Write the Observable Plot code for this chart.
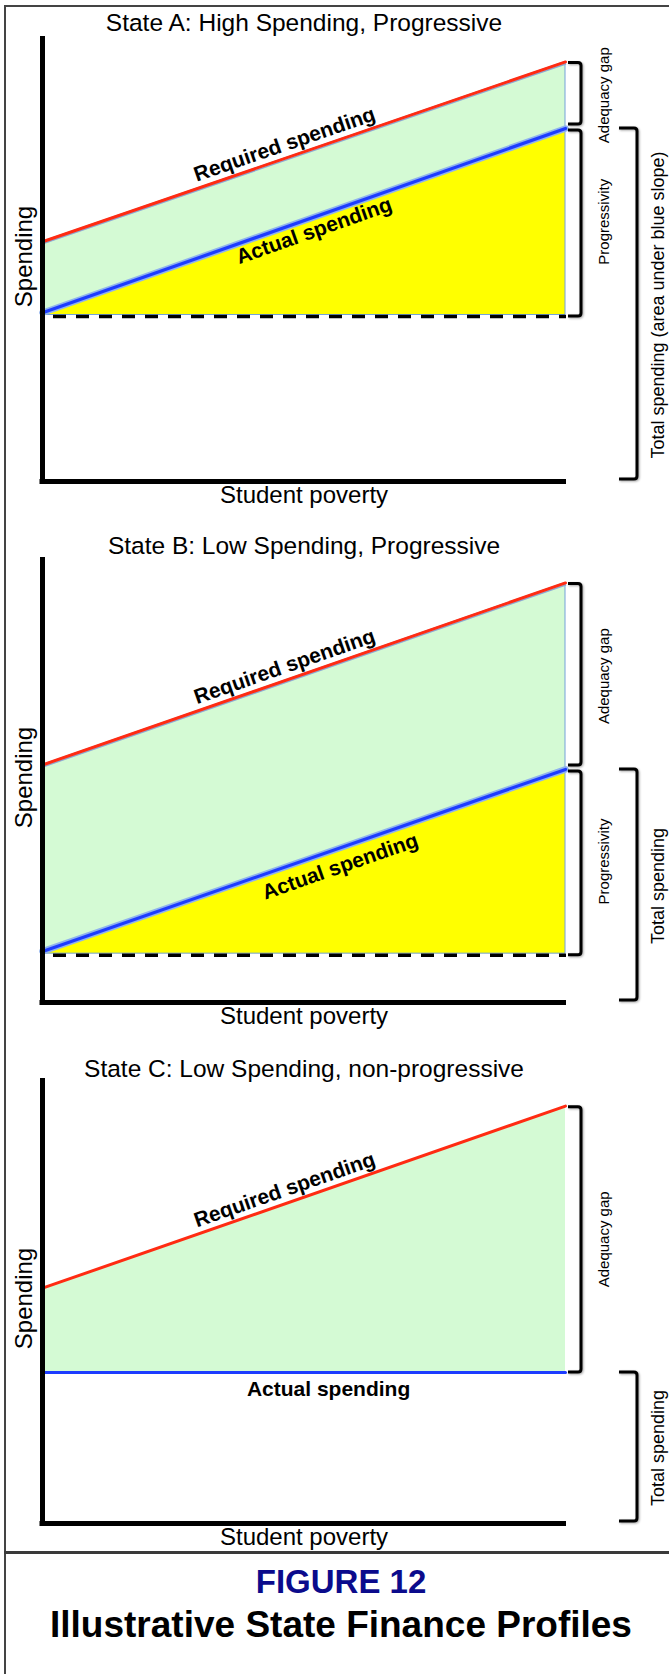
<!DOCTYPE html>
<html>
<head>
<meta charset="utf-8">
<script src="https://cdn.jsdelivr.net/npm/d3@7"></script>
<script src="https://cdn.jsdelivr.net/npm/@observablehq/plot@0.6"></script>
<style>
  html, body { margin: 0; padding: 0; background: #fff; }
  body { width: 669px; height: 1674px; overflow: hidden; position: relative;
         font-family: "Liberation Sans", Arial, Helvetica, sans-serif; }
  #frame { position: absolute; left: 4px; top: 5px; width: 700px; height: 1720px;
           border-left: 2px solid #444; border-top: 2px solid #444; }
  #sep { position: absolute; left: 4px; top: 1551px; width: 700px; height: 0;
         border-top: 3px solid #3a3a3a; }
  .panel { position: absolute; left: 0; }
  .cap { position: absolute; left: 0; width: 682px; text-align: center; line-height: 1;
         font-family: "Liberation Sans", Arial, Helvetica, sans-serif; font-weight: bold; white-space: nowrap; }
</style>
</head>
<body>
<div id="frame"></div>
<div id="panels"></div>
<div id="sep"></div>
<div class="cap" id="fignum" style="top:1565px;font-size:33px;color:#0b0b8c;">FIGURE 12</div>
<div class="cap" id="figtitle" style="top:1606px;font-size:37px;color:#000;">Illustrative State Finance Profiles</div>
<script>
// ---------------- data ----------------
const titles = [
  "State A: High Spending, Progressive",
  "State B: Low Spending, Progressive",
  "State C: Low Spending, non-progressive"
];
const poverty = [0, 1];                 // student poverty (low -> high)
const requiredA = [54, 94.5];           // required spending
const actualA   = [38, 79.5];           // actual spending
const baselineA = 37.5;                 // spending at zero poverty (dashed)
const requiredB = [53.5, 94.5];
const actualB   = [11.5, 52.5];
const baselineB = 11;
const requiredC = [53, 94];
const actualC   = [34, 34];
const xLabel = "Student poverty";
const yLabel = "Spending";
const lineLabels = ["Required spending", "Actual spending"];
const bracketLabels = ["Adequacy gap", "Progressivity", "Total spending (area under blue slope)", "Total spending"];

// ---------------- layout ----------------
const FONT = "'Liberation Sans', Arial, Helvetica, sans-serif";
const W = 669, H = 510, ML = 42, MR = 104, MT = 37, MB = 29;
const C = {
  red: "#ff2b12", blue: "#1d3cff", halo: "#8fb2ee", green: "#d4fad4",
  yellow: "#ffff00", edge: "#74a2d9"
};

const panels = [
  { title: titles[0], required: requiredA, actual: actualA, baseline: baselineA, progressive: true,
    top: 0, titleDy: -14, total: bracketLabels[2], reqT: 0.467, actT: 0.514, actDy: 5 },
  { title: titles[1], required: requiredB, actual: actualB, baseline: baselineB, progressive: true,
    top: 521, titleDy: -12, total: bracketLabels[3], reqT: 0.467, actT: 0.564, actDy: 10 },
  { title: titles[2], required: requiredC, actual: actualC, baseline: null, progressive: false,
    top: 1042, titleDy: -10, total: bracketLabels[3], reqT: 0.467, actT: 0.547, actDy: 9 }
];

const at = (arr, t) => arr[0] + (arr[1] - arr[0]) * t;

function scaleFn(plot, name, domain, range) {
  const s = plot.scale(name);
  if (s && typeof s.apply === "function") return v => s.apply(v);
  return d3.scaleLinear(s ? s.domain : domain, s ? s.range : range);
}

function bracketMark(specs) {
  return (index, scales) => {
    const X = scales.x, Y = scales.y;
    const g = d3.create("svg:g")
      .attr("fill", "none").attr("stroke", "#000").attr("stroke-width", 3)
      .attr("stroke-linejoin", "round").attr("stroke-linecap", "butt")
      .style("filter", "drop-shadow(1px 1.5px 1px rgba(0,0,0,0.35))");
    for (const s of specs) {
      const xv = X(1) + s.offset, t = s.tick, r = 3;
      const a = Y(s.from) + s.padTop, b = Y(s.to) - s.padBottom;
      g.append("path").attr("d",
        `M${xv - t},${a}H${xv - r}Q${xv},${a} ${xv},${a + r}V${b - r}Q${xv},${b} ${xv - r},${b}H${xv - t}`);
    }
    return g.node();
  };
}

function makePanel(p) {
  const rows = poverty.map((x, i) => ({
    poverty: x, required: p.required[i], actual: p.actual[i], baseline: p.baseline
  }));
  const common = {
    width: W, height: H, marginLeft: ML, marginRight: MR, marginTop: MT, marginBottom: MB,
    x: { domain: [0, 1], axis: null },
    y: { domain: [0, 100], axis: null },
    style: { fontFamily: FONT, background: "transparent", overflow: "visible" }
  };
  // probe plot to read the library's scales for label angles
  const probe = Plot.plot({ ...common, marks: [Plot.line(rows, { x: "poverty", y: "required" })] });
  const sx = scaleFn(probe, "x", [0, 1], [ML, W - MR]);
  const sy = scaleFn(probe, "y", [0, 100], [H - MB, MT]);
  const ang = arr => Math.atan2(sy(arr[1]) - sy(arr[0]), sx(1) - sx(0)) * 180 / Math.PI;
  const reqAng = ang(p.required), actAng = ang(p.actual);

  const marks = [];
  // green adequacy-gap area
  marks.push(Plot.areaY(rows, { x: "poverty", y1: "actual", y2: "required", fill: C.green,
    stroke: p.progressive ? C.edge : "none", strokeWidth: 1 }));
  if (p.progressive) {
    marks.push(Plot.areaY(rows, { x: "poverty", y1: "baseline", y2: "actual", fill: C.yellow,
      stroke: C.edge, strokeWidth: 1 }));
    marks.push(Plot.ruleY([p.baseline], { stroke: "#000", strokeWidth: 3.5,
      strokeDasharray: "13,10", strokeDashoffset: 12, dy: 1.5, insetRight: -1 }));
    marks.push(Plot.line(rows, { x: "poverty", y: "actual", stroke: C.halo, strokeWidth: 6.5 }));
    marks.push(Plot.line(rows, { x: "poverty", y: "actual", stroke: C.blue, strokeWidth: 3.2 }));
    marks.push(Plot.line(rows, { x: "poverty", y: "required", stroke: "#8ea8d2", strokeWidth: 1.6, dy: 2 }));
  } else {
    marks.push(Plot.line(rows, { x: "poverty", y: "actual", stroke: C.blue, strokeWidth: 3 }));
  }
  marks.push(Plot.line(rows, { x: "poverty", y: "required", stroke: C.red, strokeWidth: 3 }));

  // axes
  marks.push(Plot.ruleX([0], { stroke: "#000", strokeWidth: 5, insetBottom: -2.5, insetTop: -1 }));
  marks.push(Plot.ruleY([0], { stroke: "#000", strokeWidth: 5, insetLeft: -2.5, insetRight: -1 }));

  // titles
  marks.push(Plot.text([p.title], { text: d => d, frameAnchor: "top", lineAnchor: "middle",
    textAnchor: "middle", dy: p.titleDy, fontSize: 24.5, fill: "#000", fontFamily: FONT }));
  marks.push(Plot.text([xLabel], { text: d => d, frameAnchor: "bottom", lineAnchor: "middle",
    textAnchor: "middle", dy: 14, fontSize: 24, fill: "#000", fontFamily: FONT }));
  marks.push(Plot.text([yLabel], { text: d => d, frameAnchor: "left", lineAnchor: "middle",
    textAnchor: "middle", rotate: -90, dx: -18, dy: -3, fontSize: 24, fill: "#000", fontFamily: FONT }));

  // line labels
  marks.push(Plot.text([{ x: p.reqT, y: at(p.required, p.reqT) }], {
    x: "x", y: "y", text: () => lineLabels[0], rotate: reqAng, lineAnchor: "bottom",
    textAnchor: "middle", dy: -7, fontSize: 21, fontWeight: "bold", fill: "#000", fontFamily: FONT }));
  marks.push(Plot.text([{ x: p.actT, y: at(p.actual, p.actT) }], {
    x: "x", y: "y", text: () => lineLabels[1], rotate: actAng, lineAnchor: "top",
    textAnchor: "middle", dy: p.actDy, fontSize: 21, fontWeight: "bold", fill: "#000", fontFamily: FONT }));

  // brackets
  const req1 = p.required[1], act1 = p.actual[1];
  const specs = [
    { from: req1, to: act1, offset: 16, tick: 13, padTop: 1, padBottom: p.progressive ? 4 : 0 },
    { from: act1, to: 0, offset: 72, tick: 18, padTop: 0, padBottom: 2 }
  ];
  if (p.progressive) specs.push({ from: act1, to: p.baseline, offset: 16, tick: 13, padTop: 2, padBottom: -1.5 });
  marks.push(bracketMark(specs));

  // bracket labels
  const side = [{ t: bracketLabels[0], y: (req1 + act1) / 2, dx: 38.5, fs: 15 }];
  if (p.progressive) side.push({ t: bracketLabels[1], y: (act1 + p.baseline) / 2, dx: 38.5, fs: 15 });
  side.push({ t: p.total, y: act1 / 2, dx: 93, fs: 18 });
  for (const s of side) {
    marks.push(Plot.text([s], { x: () => 1, y: "y", text: "t", rotate: -90, dx: s.dx,
      lineAnchor: "middle", textAnchor: "middle", fontSize: s.fs, fill: "#000", fontFamily: FONT }));
  }

  const svg = Plot.plot({ ...common, marks });
  svg.setAttribute("class", "panel");
  svg.style.position = "absolute";
  svg.style.left = "0px";
  svg.style.top = p.top + "px";
  return svg;
}

const host = document.getElementById("panels");
for (const p of panels) host.appendChild(makePanel(p));
</script>
</body>
</html>
